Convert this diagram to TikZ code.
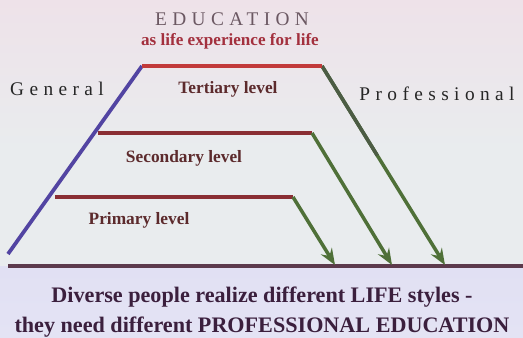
\documentclass[tikz,border=0pt]{standalone}
\usepackage{fontspec}
\setmainfont{Liberation Serif}
\newfontfamily\spacedfont[LetterSpace=28]{Liberation Serif}
\usetikzlibrary{arrows.meta, positioning, calc}
\definecolor{toppink}{HTML}{EEE2E9}
\definecolor{midgrey}{HTML}{E9ECEE}
\definecolor{lowband}{HTML}{E1E0F3}
\definecolor{topred}{HTML}{C23A3A}
\definecolor{levelred}{HTML}{8A2E34}
\definecolor{genblue}{HTML}{5244A2}
\definecolor{profgreen}{HTML}{4F7038}
\definecolor{slopegreen}{HTML}{4C5C44}
\definecolor{groundink}{HTML}{5C3A4C}
\definecolor{titlegrey}{HTML}{6B5862}
\definecolor{subred}{HTML}{A3303E}
\definecolor{labelred}{HTML}{5C2A2C}
\definecolor{bottomink}{HTML}{3B1F3D}

\begin{document}
\begin{tikzpicture}[x=0.03cm, y=-0.03cm, line join=round]
    \tikzstyle{level line}=[draw=levelred, line width=2.6pt]
    \tikzstyle{top line}=[draw=topred, line width=4pt]
    \tikzstyle{general line}=[draw=genblue, line width=3.2pt]
    \tikzstyle{ground line}=[draw=groundink, line width=2.6pt]
    \tikzstyle{prof arrow}=[draw=profgreen, line width=3pt, -{Stealth[length=14pt, width=11pt, inset=5pt]}]
    \tikzstyle{level label}=[font=\fontsize{14.8}{16}\selectfont\bfseries, text=labelred, inner sep=0pt]
    \tikzstyle{side label}=[font=\fontsize{16.5}{18}\spacedfont, text=black!85, inner sep=0pt]
    \tikzstyle{bottom text}=[font=\fontsize{18.9}{25}\selectfont\bfseries, text=bottomink, align=center, inner sep=0pt]

    % background
    \useasboundingbox (0,0) rectangle (523,338);
    \shade[top color=toppink, bottom color=midgrey] (0,0) rectangle (523,150);
    \fill[midgrey] (0,150) rectangle (523,266);
    \shade[top color=lowband, bottom color=lowband!90!white] (0,266) rectangle (523,338);

    % corners of the staircase
    \coordinate (T-L) at (142,66);
    \coordinate (T-R) at (322,66);
    \coordinate (S-L) at (98,133);
    \coordinate (S-R) at (312,133);
    \coordinate (P-L) at (55,197);
    \coordinate (P-R) at (293,197);
    \coordinate (G-B) at (8,254);
    \coordinate (B-L) at (8,266);
    \coordinate (B-R) at (523,266);
    \coordinate (A-1) at (335,265);
    \coordinate (A-2) at (392,265);
    \coordinate (A-3) at (445,265);

    % titles
    \node[font=\fontsize{16.5}{18}\spacedfont, text=titlegrey, inner sep=0pt] (edu) at (232,19) {EDUCATION};
    \node[font=\fontsize{14.6}{16}\selectfont\bfseries, text=subred, inner sep=0pt] (sub) at (230,41) {as life experience for life};
    \node[side label] (gen) at (57,89) {General};
    \node[side label] (prof) at (437,94) {Professional};

    \node[level label] (tert) at (228,89) {Tertiary level};
    \node[level label] (sec) at (184,158) {Secondary level};
    \node[level label] (prim) at (139,220) {Primary level};

    % lines
    \draw[ground line] (B-L) -- (B-R);
    \draw[level line] (P-L) -- (P-R);
    \draw[level line] (S-L) -- (S-R);
    \draw[prof arrow] (P-R) -- (A-1);
    \draw[prof arrow] (S-R) -- (A-2);
    \draw[prof arrow] (T-R) -- (A-3);
    \draw[slopegreen, line width=3pt] (T-R) -- ($(T-R)!0.45!(A-3)$);
    \draw[general line] (T-L) -- (G-B);
    \draw[top line] (T-L) -- (T-R);

    \node[bottom text] (msg) at (262,312) {Diverse people realize different LIFE styles -\\they need different PROFESSIONAL EDUCATION};
\end{tikzpicture}
\end{document}
